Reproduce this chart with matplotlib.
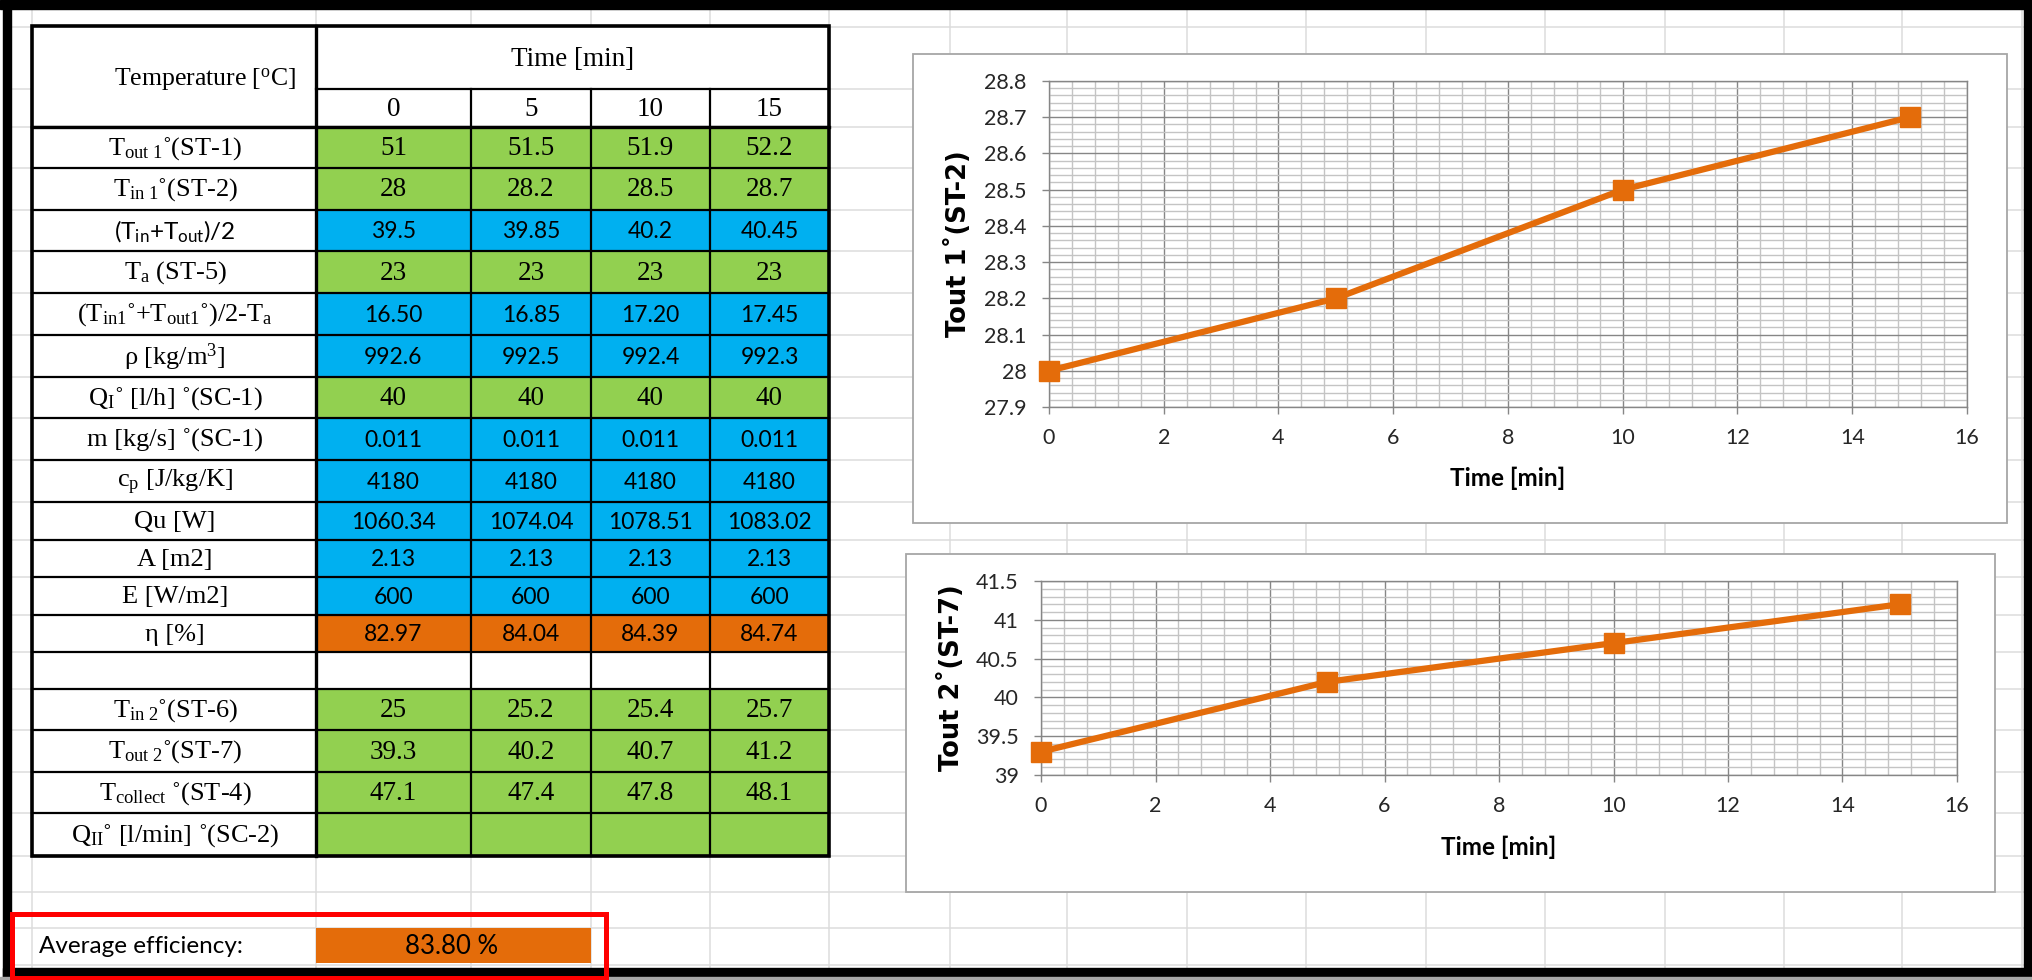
import matplotlib
matplotlib.use("Agg")
import matplotlib.pyplot as plt
from matplotlib.patches import Rectangle
from matplotlib.ticker import MultipleLocator, FuncFormatter

plt.rcParams['font.family'] = ['Lato', 'DejaVu Sans']
plt.rcParams['mathtext.fontset'] = 'custom'
plt.rcParams['mathtext.rm'] = 'Liberation Serif'
plt.rcParams['mathtext.it'] = 'Liberation Serif:italic'
plt.rcParams['mathtext.sf'] = 'Lato'

W, H = 2033, 980

# measurements (time in minutes)
time_min = [0, 5, 10, 15]
t_out1 = [51, 51.5, 51.9, 52.2]
t_in1 = [28, 28.2, 28.5, 28.7]
t_mean = [39.5, 39.85, 40.2, 40.45]
t_amb = [23, 23, 23, 23]
dt_mean = [16.50, 16.85, 17.20, 17.45]
rho = [992.6, 992.5, 992.4, 992.3]
flow_1 = [40, 40, 40, 40]
m_dot = [0.011, 0.011, 0.011, 0.011]
cp = [4180, 4180, 4180, 4180]
q_useful = [1060.34, 1074.04, 1078.51, 1083.02]
area = [2.13, 2.13, 2.13, 2.13]
irradiance = [600, 600, 600, 600]
eta = [82.97, 84.04, 84.39, 84.74]
t_in2 = [25, 25.2, 25.4, 25.7]
t_out2 = [39.3, 40.2, 40.7, 41.2]
t_collect = [47.1, 47.4, 47.8, 48.1]
flow_2 = [None, None, None, None]
avg_efficiency = 83.80

row_labels = [
    r"T$_{\mathrm{out\ 1}}$˚(ST-1)",
    r"T$_{\mathrm{in\ 1}}$˚(ST-2)",
    r"(T$_{\mathsf{in}}$+T$_{\mathsf{out}}$)/2",
    r"T$_{\mathrm{a}}$ (ST-5)",
    r"(T$_{\mathrm{in1}}$˚+T$_{\mathrm{out1}}$˚)/2-T$_{\mathrm{a}}$",
    r"ρ [kg/m$^{\mathrm{3}}$]",
    r"Q$_{\mathrm{I}}$˚ [l/h] ˚(SC-1)",
    r"m [kg/s] ˚(SC-1)",
    r"c$_{\mathrm{p}}$ [J/kg/K]",
    "Qu [W]",
    "A [m2]",
    "E [W/m2]",
    "η [%]",
    "",
    r"T$_{\mathrm{in\ 2}}$˚(ST-6)",
    r"T$_{\mathrm{out\ 2}}$˚(ST-7)",
    r"T$_{\mathrm{collect}}$ ˚(ST-4)",
    r"Q$_{\mathrm{II}}$˚ [l/min] ˚(SC-2)",
]
row_values = [t_out1, t_in1, t_mean, t_amb, dt_mean, rho, flow_1, m_dot, cp,
              q_useful, area, irradiance, eta, None, t_in2, t_out2, t_collect, flow_2]
row_fmt = ['{:g}', '{:g}', '{:g}', '{:g}', '{:.2f}', '{:g}', '{:g}', '{:g}', '{:g}',
           '{:.2f}', '{:g}', '{:g}', '{:.2f}', '', '{:g}', '{:g}', '{:g}', '']

GREEN = '#92D050'
BLUE = '#00B0F0'
ORANGE = '#E46C0A'
row_colors = [GREEN, GREEN, BLUE, GREEN, BLUE, BLUE, GREEN, BLUE, BLUE,
              BLUE, BLUE, BLUE, ORANGE, 'white', GREEN, GREEN, GREEN, GREEN]

SERIF = ['Liberation Serif', 'DejaVu Serif']
SANS = ['Lato', 'DejaVu Sans']

fig = plt.figure(figsize=(W / 100, H / 100), dpi=100)
bg = fig.add_axes([0, 0, 1, 1])
bg.set_xlim(0, W)
bg.set_ylim(H, 0)
bg.axis('off')

# spreadsheet gridlines
sheet_x = [32, 316, 471, 591, 710, 829, 950, 1067, 1187, 1306, 1426, 1545,
           1665, 1784, 1902, 2022]
sheet_y = [27, 89, 127, 168, 210, 251, 293, 335, 377, 418, 460, 502, 540, 577,
           615, 652, 689, 730, 772, 813, 856, 892, 928, 965]
for x in sheet_x:
    bg.plot([x, x], [9, 968], color='#DCDCDC', lw=1.1, zorder=0)
for y in sheet_y:
    bg.plot([11, 2024], [y, y], color='#DCDCDC', lw=1.1, zorder=0)

# ---- data table ----
tx = [32, 316, 471, 591, 710, 829]
ty = sheet_y[2:21]
top = 26
bg.add_patch(Rectangle((tx[0], top), tx[-1] - tx[0], ty[-1] - top,
                       facecolor='white', edgecolor='none', zorder=1))

for i, lab in enumerate(row_labels):
    y0, y1 = ty[i], ty[i + 1]
    yc = (y0 + y1) / 2 + 1
    for j in range(4):
        bg.add_patch(Rectangle((tx[j + 1], y0), tx[j + 2] - tx[j + 1], y1 - y0,
                               facecolor=row_colors[i], edgecolor='none', zorder=1))
    fam = SANS if i == 2 else SERIF
    bg.text(175, yc, lab, family=fam, fontsize=19 if i != 2 else 17.5,
            ha='center', va='center', zorder=3)
    vals = row_values[i]
    if vals is None:
        continue
    for j, v in enumerate(vals):
        if v is None:
            continue
        if row_colors[i] == GREEN:
            bg.text((tx[j + 1] + tx[j + 2]) / 2, yc, row_fmt[i].format(v),
                    family=SERIF, fontsize=19.5, ha='center', va='center', zorder=3)
        else:
            bg.text((tx[j + 1] + tx[j + 2]) / 2, yc, row_fmt[i].format(v),
                    family=SANS, fontsize=16.5, ha='center', va='center', zorder=3)

# header
bg.text(205, 80, r"Temperature [$^{\mathrm{o}}$C]", family=SERIF,
        fontsize=18.5, ha='center', va='center', zorder=3)
bg.text((tx[1] + tx[-1]) / 2, 60, "Time [min]", family=SERIF, fontsize=19.5,
        ha='center', va='center', zorder=3)
for j, t in enumerate(time_min):
    bg.text((tx[j + 1] + tx[j + 2]) / 2, 110, str(t), family=SERIF, fontsize=19.5,
            ha='center', va='center', zorder=3)

# table borders
lw_in = 1.6
for y in ty:
    bg.plot([tx[0], tx[-1]], [y, y], color='black', lw=lw_in, zorder=4)
bg.plot([tx[1], tx[-1]], [89, 89], color='black', lw=lw_in, zorder=4)
bg.plot([tx[0], tx[-1]], [ty[0], ty[0]], color='black', lw=2.4, zorder=4)
for x in tx[2:-1]:
    bg.plot([x, x], [89, ty[-1]], color='black', lw=lw_in, zorder=4)
bg.plot([tx[1], tx[1]], [top, ty[-1]], color='black', lw=2.4, zorder=4)
bg.add_patch(Rectangle((tx[0], top), tx[-1] - tx[0], ty[-1] - top, fill=False,
                       edgecolor='black', lw=2.6, zorder=5))

# average efficiency
bg.add_patch(Rectangle((316, 928), 275, 35, facecolor=ORANGE, edgecolor='none', zorder=1))
bg.text(39, 946, "Average efficiency:", family=SANS, fontsize=17.5, ha='left',
        va='center', zorder=3)
bg.text(452, 946, f"{avg_efficiency:.2f} %", family=SANS, fontsize=18.5, ha='center',
        va='center', zorder=3)

# outer black frame
bg.add_patch(Rectangle((0, 0), W, 9, color='black', zorder=6))
bg.add_patch(Rectangle((3, 0), 8, 977, color='black', zorder=6))
bg.add_patch(Rectangle((2024, 0), 9, 977, color='black', zorder=6))
bg.add_patch(Rectangle((3, 968), W, 9, color='black', zorder=6))
bg.add_patch(Rectangle((0, 977), W, 3, color='#A8A8A8', zorder=6))
bg.add_patch(Rectangle((12, 914), 594, 64, fill=False, edgecolor='#FF0000', lw=3.6,
                       zorder=7, clip_on=False))

# ---- charts ----
GRID_MAJOR = '#868686'
GRID_MINOR = '#C4C4C4'


def fmt_num(v, pos):
    return f"{round(v, 2):g}"


def draw_chart(frame, plot, yvals, ylim, ymajor, yminor, ylabel, ylabel_x, xlabel_y):
    fx0, fy0, fx1, fy1 = frame
    bg.add_patch(Rectangle((fx0, fy0), fx1 - fx0, fy1 - fy0, facecolor='white',
                           edgecolor='#A6A6A6', lw=1.3, zorder=2))
    l, t, r, b = plot
    ax = fig.add_axes([l / W, 1 - b / H, (r - l) / W, (b - t) / H])
    ax.plot(time_min, yvals, color=ORANGE, lw=4.5, marker='s', ms=14, zorder=3,
            clip_on=False)
    ax.set_xlim(0, 16)
    ax.set_ylim(*ylim)
    ax.xaxis.set_major_locator(MultipleLocator(2))
    ax.xaxis.set_minor_locator(MultipleLocator(0.4))
    ax.yaxis.set_major_locator(MultipleLocator(ymajor))
    ax.yaxis.set_minor_locator(MultipleLocator(yminor))
    ax.yaxis.set_major_formatter(FuncFormatter(fmt_num))
    ax.set_axisbelow(True)
    ax.grid(which='minor', color=GRID_MINOR, lw=1.0)
    ax.grid(which='major', color=GRID_MAJOR, lw=1.0)
    ax.tick_params(which='major', direction='out', length=5, width=1,
                   color=GRID_MAJOR, labelsize=15.5, labelcolor='#262626')
    ax.tick_params(axis='y', pad=11)
    ax.tick_params(axis='x', pad=10)
    ax.tick_params(which='minor', length=0)
    for s in ax.spines.values():
        s.set_color(GRID_MAJOR)
        s.set_linewidth(1)
    bg.text((l + r) / 2, xlabel_y, "Time [min]", family=SANS, fontweight='bold',
            fontsize=17.5, ha='center', va='center', zorder=3)
    bg.text(ylabel_x, (t + b) / 2, ylabel, family=['DejaVu Sans'], fontweight='bold',
            fontsize=18.5, rotation=90, ha='center', va='center', zorder=3)
    return ax


draw_chart((913, 54, 2007, 523), (1049, 81, 1967, 407), t_in1, (27.9, 28.8), 0.1, 0.02,
           "Tout 1˚(ST-2)", 958, 478)
draw_chart((906, 554, 1995, 892), (1041, 581, 1957, 775), t_out2, (39, 41.5), 0.5, 0.1,
           "Tout 2˚(ST-7)", 951, 847)

fig.savefig("out.png", dpi=100)
